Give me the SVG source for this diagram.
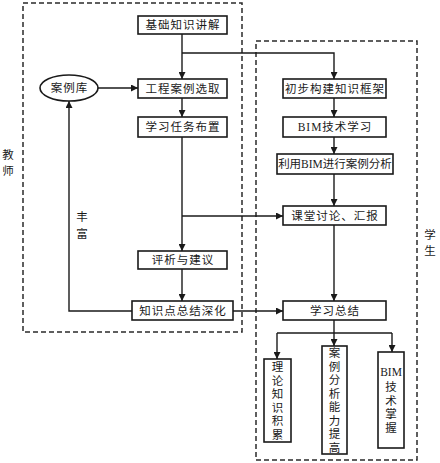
<svg xmlns="http://www.w3.org/2000/svg" width="440" height="463" viewBox="0 0 440 463">
<defs>
<marker id="ah" viewBox="0 0 10 10" refX="10" refY="5" markerWidth="7" markerHeight="7" markerUnits="userSpaceOnUse" orient="auto">
<path d="M0,0 L10,5 L0,10 z" fill="#1a1a1a"/>
</marker>
<style>
.box{fill:#fff;stroke:#1a1a1a;stroke-width:1.6}
.dash{fill:none;stroke:#2a2a2a;stroke-width:1.5;stroke-dasharray:5,3}
.ln{fill:none;stroke:#1a1a1a;stroke-width:1.4}
.arr{fill:none;stroke:#1a1a1a;stroke-width:1.4;marker-end:url(#ah)}
text{font-family:"Liberation Serif","Noto Sans CJK SC",serif;font-size:11.5px;fill:#1a1a1a;text-anchor:middle;dominant-baseline:central}
.sp{letter-spacing:1px}
</style>
</defs>
<rect width="440" height="463" fill="#fff"/>
<g id="regions">
<rect class="dash" x="23" y="3" width="219" height="329"/>
<rect class="dash" x="256" y="41" width="161" height="419"/>
<text x="8" y="155">教</text>
<text x="8" y="171">师</text>
<text x="430" y="235">学</text>
<text x="430" y="251">生</text>
</g>
<g id="connectors">
<path class="arr" d="M182,34 V79"/>
<path class="arr" d="M182,53 H334 V79"/>
<path class="arr" d="M98,88 H138"/>
<path class="arr" d="M182,98 V117"/>
<path class="arr" d="M182,137 V251"/>
<path class="arr" d="M182,216 H283"/>
<path class="arr" d="M182,269 V301"/>
<path class="arr" d="M233,311 H283"/>
<path class="arr" d="M132,311 H69 V101"/>
<path class="arr" d="M334,98 V117"/>
<path class="arr" d="M334,137 V154"/>
<path class="arr" d="M334,174 V206"/>
<path class="arr" d="M334,225 V301"/>
<path class="arr" d="M334,320 V346"/>
<path class="ln" d="M277,333 H392"/>
<path class="arr" d="M277,333 V359"/>
<path class="arr" d="M392,333 V352"/>
<text x="82" y="217">丰</text>
<text x="82" y="234">富</text>
</g>
<g id="n-jichu"><rect class="box" x="138" y="16" width="89" height="18"/><text class="sp" x="183" y="25">基础知识讲解</text></g>
<g id="n-anliku"><ellipse class="box" cx="69" cy="88" rx="29" ry="13"/><text class="sp" x="69.5" y="88">案例库</text></g>
<g id="n-gongcheng"><rect class="box" x="138" y="79" width="89" height="19"/><text class="sp" x="183" y="88.5">工程案例选取</text></g>
<g id="n-renwu"><rect class="box" x="138" y="117" width="89" height="20"/><text class="sp" x="183" y="127">学习任务布置</text></g>
<g id="n-pingxi"><rect class="box" x="138" y="251" width="89" height="18"/><text class="sp" x="183" y="260">评析与建议</text></g>
<g id="n-zongjie"><rect class="box" x="132" y="301" width="101" height="19"/><text class="sp" x="183" y="310.5">知识点总结深化</text></g>
<g id="n-kuangjia"><rect class="box" x="283" y="79" width="103" height="19"/><text class="sp" x="335" y="88.5">初步构建知识框架</text></g>
<g id="n-bim"><rect class="box" x="283" y="117" width="103" height="20"/><text class="sp" x="335" y="127">BIM技术学习</text></g>
<g id="n-fenxi"><rect class="box" x="277" y="154" width="116" height="20"/><text x="335" y="164">利用BIM进行案例分析</text></g>
<g id="n-ketang"><rect class="box" x="283" y="206" width="103" height="19"/><text class="sp" x="335" y="215.5">课堂讨论、汇报</text></g>
<g id="n-xuexi"><rect class="box" x="283" y="301" width="103" height="19"/><text class="sp" x="335" y="310.5">学习总结</text></g>
<g id="n-lilun"><rect class="box" x="264" y="359" width="27" height="83"/>
<text x="277.5" y="367">理</text><text x="277.5" y="380.5">论</text><text x="277.5" y="394">知</text><text x="277.5" y="407.5">识</text><text x="277.5" y="421">积</text><text x="277.5" y="434.5">累</text></g>
<g id="n-nengli"><rect class="box" x="322" y="346" width="25" height="108"/>
<text x="334.5" y="353">案</text><text x="334.5" y="366.5">例</text><text x="334.5" y="380">分</text><text x="334.5" y="393.5">析</text><text x="334.5" y="407">能</text><text x="334.5" y="420.5">力</text><text x="334.5" y="434">提</text><text x="334.5" y="447.5">高</text></g>
<g id="n-zhangwo"><rect class="box" x="378" y="352" width="26" height="96"/>
<text x="391" y="372" style="font-size:11.5px">BIM</text><text x="391" y="387">技</text><text x="391" y="400.5">术</text><text x="391" y="414">掌</text><text x="391" y="427.5">握</text></g>
</svg>
